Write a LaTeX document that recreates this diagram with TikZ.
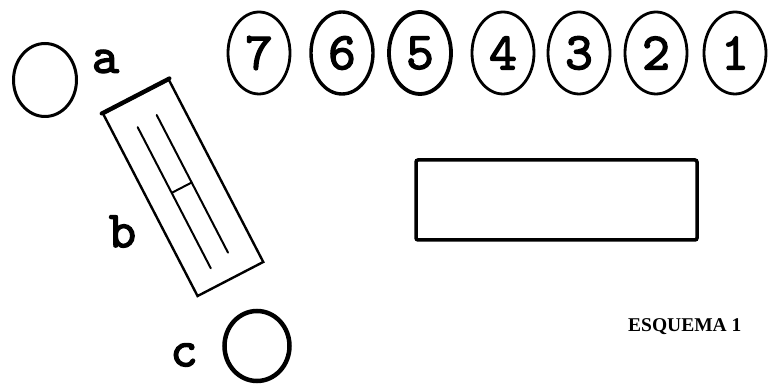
\documentclass[tikz,border=0pt]{standalone}
\usepackage{fontspec}
\usetikzlibrary{shapes.geometric}
\newfontfamily\plantype[FakeBold=2.5]{lmmono10-regular.otf}
\newfontfamily\plancap{Liberation Serif}

\begin{document}
\begin{tikzpicture}[x=1pt,y=1pt,
  ring/.style={draw,ellipse,inner sep=0pt,line width=2.8pt,
    minimum width=62pt,minimum height=82pt,
    font=\plantype\fontsize{53}{53}\selectfont},
  tag/.style={inner sep=0pt,font=\plantype\fontsize{52}{52}\selectfont},
  slab/.style={draw,rectangle,inner sep=0pt,line width=2.4pt,
    minimum width=205pt,minimum height=74pt,rotate=-62.6},
  groove/.style={line width=2pt,line cap=round}]
  \useasboundingbox (0,0) rectangle (769,385);
  % numbered circles
  \foreach \n/\x/\w in {7/259/2.8,6/342/3.4,5/420/3.8,4/503/2.8,3/579/2.8,2/656/2.8,1/735/2.8}
    \node[ring,line width=\w pt] (r\n) at (\x,332) {\n};
  % circle a
  \node[draw,ellipse,line width=3pt,minimum width=63pt,minimum height=73pt] (a) at (45,305) {};
  \node[tag] (la) at (105.5,323.5) {a};
  % slab b
  \node[slab] (b) at (183.25,197) {};
  \draw[line width=4pt,line cap=round] (b.north west) -- (b.south west);
  \begin{scope}[shift={(b.center)},rotate=-62.6]
    \coordinate (g1s) at (-75,-12.5);
    \coordinate (g1e) at (84,-12.5);
    \coordinate (g2s) at (-77,10);
    \coordinate (g2e) at (78,10);
    \coordinate (gxs) at (-1,-12.5);
    \coordinate (gxe) at (-1,10);
  \end{scope}
  \draw[groove] (g1s) -- (g1e);
  \draw[groove] (g2s) -- (g2e);
  \draw[groove] (gxs) -- (gxe);
  \node[tag] (lb) at (122.5,153.5) {b};
  % circle c
  \node[draw,ellipse,line width=4.5pt,minimum width=65pt,minimum height=70pt] (c) at (257,39) {};
  \node[tag] (lc) at (184,30) {c};
  % box
  \node[draw,rectangle,line width=3.5pt,rounded corners=2pt,
    minimum width=281pt,minimum height=80pt] (box) at (556.5,185) {};
  % caption
  \node[inner sep=0pt,anchor=base west,font=\plancap\bfseries\fontsize{19.5}{19.5}\selectfont]
    (cap) at (628,53) {ESQUEMA 1};
\end{tikzpicture}
\end{document}
